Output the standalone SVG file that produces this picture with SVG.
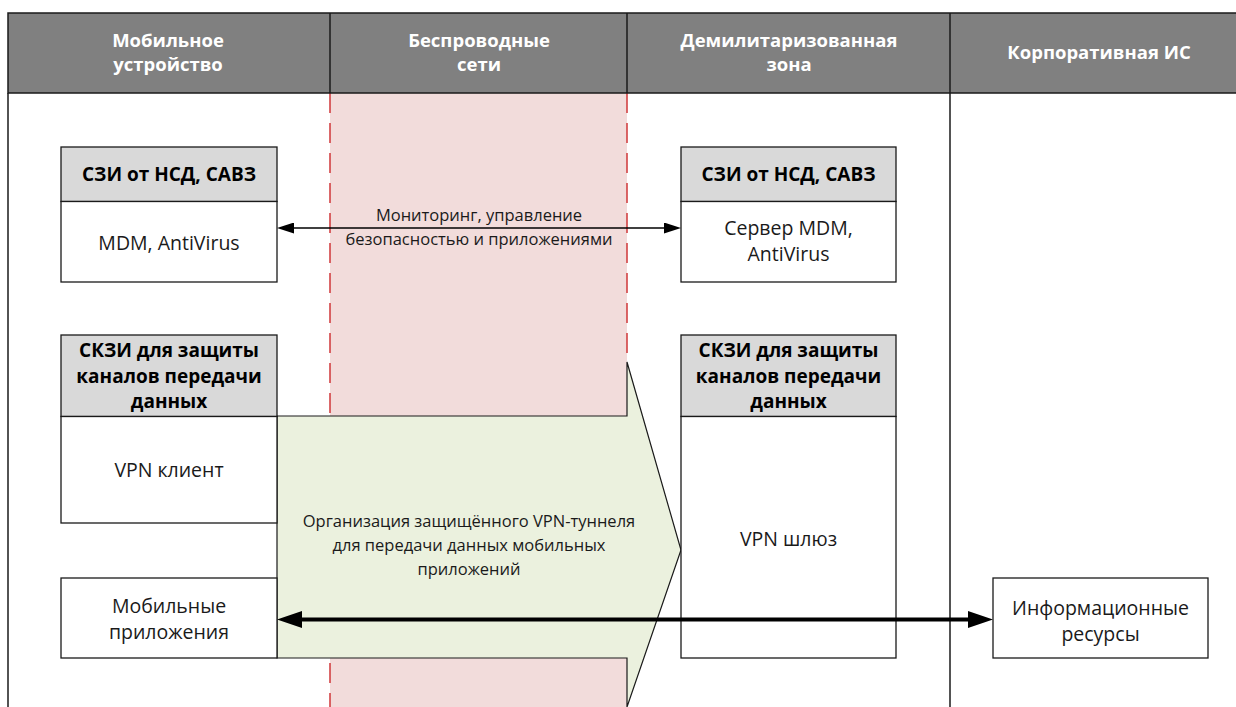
<svg xmlns="http://www.w3.org/2000/svg" width="1236" height="707" viewBox="0 0 1236 707">
  <defs>
    <!-- thin arrowhead: base at ref point, tip 17px ahead -->
    <marker id="arrowThin" viewBox="0 0 17 11" refX="0" refY="5.5" markerWidth="17" markerHeight="11" markerUnits="userSpaceOnUse" orient="auto-start-reverse">
      <path d="M0,0 L17,5.5 L0,11 Z" fill="#000"/>
    </marker>
    <!-- bold arrowhead for the data flow -->
    <marker id="arrowBold" viewBox="0 0 25 17" refX="0" refY="8.5" markerWidth="25" markerHeight="17" markerUnits="userSpaceOnUse" orient="auto-start-reverse">
      <path d="M0,0 L25,8.5 L0,17 Z" fill="#000"/>
    </marker>
  </defs>
  <style>
    text { font-family: "Open Sans", "Noto Sans", "DejaVu Sans", sans-serif; font-size: 19.5px; fill: #1a1a1a; text-anchor: middle; }
    .lane-title { font-weight: bold; fill: #ffffff; font-size: 18.5px; }
    .box-title { font-weight: bold; fill: #000000; font-size: 19px; }
    .label { font-size: 16.5px; }
    .box { fill: #ffffff; stroke: #1a1a1a; stroke-width: 1.3; }
    .box-head { fill: #d9d9d9; stroke: #1a1a1a; stroke-width: 1.3; }
    .zone { fill: #f2dcdb; stroke: none; }
    .zone-edge { stroke: #d0373a; stroke-width: 1.5; stroke-dasharray: 20 10; fill: none; }
    .lane-line { stroke: #1a1a1a; stroke-width: 1.5; fill: none; }
    .tunnel { fill: #ebf1de; stroke: #1a1a1a; stroke-width: 1.2; }
  </style>

  <rect x="0" y="0" width="1236" height="707" fill="#ffffff"/>

  <!-- swimlanes -->
  <g id="lanes">
    <rect x="330" y="93" width="297" height="323" class="zone"/>
    <rect x="330" y="658" width="297" height="49" class="zone"/>
    <line x1="330" y1="93" x2="330" y2="707" class="zone-edge"/>
    <line x1="627" y1="93" x2="627" y2="362" class="zone-edge"/>
    <line x1="8" y1="93" x2="8" y2="707" class="lane-line"/>
    <line x1="950" y1="93" x2="950" y2="707" class="lane-line"/>
    <rect x="8" y="13" width="1240" height="80" fill="#808080" stroke="#1a1a1a" stroke-width="1.5"/>
    <line x1="330" y1="13" x2="330" y2="93" class="lane-line"/>
    <line x1="627" y1="13" x2="627" y2="93" class="lane-line"/>
    <line x1="950" y1="13" x2="950" y2="93" class="lane-line"/>
    <text class="lane-title" x="168" y="47">Мобильное</text>
    <text class="lane-title" x="168" y="71">устройство</text>
    <text class="lane-title" x="479" y="47">Беспроводные</text>
    <text class="lane-title" x="479" y="71">сети</text>
    <text class="lane-title" x="789" y="47">Демилитаризованная</text>
    <text class="lane-title" x="789" y="71">зона</text>
    <text class="lane-title" x="1099" y="59">Корпоративная ИС</text>
  </g>

  <!-- VPN tunnel block arrow -->
  <g id="tunnel">
    <polygon class="tunnel" points="277,416 627,416 627,362 681,550 627,707 627,658 277,658"/>
    <text class="label" x="469" y="527">Организация защищённого VPN-туннеля</text>
    <text class="label" x="469" y="551">для передачи данных мобильных</text>
    <text class="label" x="469" y="575">приложений</text>
  </g>

  <!-- mobile device: protection tools -->
  <g id="mobile-szi">
    <rect x="61" y="147" width="216" height="54.5" class="box-head"/>
    <rect x="61" y="201.5" width="216" height="80.5" class="box"/>
    <text class="box-title" x="169" y="181">СЗИ от НСД, САВЗ</text>
    <text x="169" y="250">MDM, AntiVirus</text>
  </g>

  <!-- DMZ: protection tools -->
  <g id="dmz-szi">
    <rect x="681" y="147" width="215" height="54.5" class="box-head"/>
    <rect x="681" y="201.5" width="215" height="80.5" class="box"/>
    <text class="box-title" x="788.5" y="181">СЗИ от НСД, САВЗ</text>
    <text x="788.5" y="235">Сервер MDM,</text>
    <text x="788.5" y="261">AntiVirus</text>
  </g>

  <!-- mobile device: VPN client -->
  <g id="mobile-vpn">
    <rect x="61" y="335" width="216" height="81.5" class="box-head"/>
    <rect x="61" y="416.5" width="216" height="106.5" class="box"/>
    <text class="box-title" x="169" y="357">СКЗИ для защиты</text>
    <text class="box-title" x="169" y="383">каналов передачи</text>
    <text class="box-title" x="169" y="408">данных</text>
    <text x="169" y="477">VPN клиент</text>
  </g>

  <!-- DMZ: VPN gateway -->
  <g id="dmz-vpn">
    <rect x="681" y="335" width="215" height="81.5" class="box-head"/>
    <rect x="681" y="416.5" width="215" height="241.5" class="box"/>
    <text class="box-title" x="788.5" y="357">СКЗИ для защиты</text>
    <text class="box-title" x="788.5" y="383">каналов передачи</text>
    <text class="box-title" x="788.5" y="408">данных</text>
    <text x="788.5" y="546">VPN шлюз</text>
  </g>

  <!-- mobile applications -->
  <g id="mobile-apps">
    <rect x="61" y="578" width="216" height="80" class="box"/>
    <text x="169" y="613">Мобильные</text>
    <text x="169" y="639">приложения</text>
  </g>

  <!-- corporate information resources -->
  <g id="info-resources">
    <rect x="993" y="578" width="215" height="80" class="box"/>
    <text x="1100.5" y="615">Информационные</text>
    <text x="1100.5" y="641">ресурсы</text>
  </g>

  <!-- connectors -->
  <g id="connectors">
    <line x1="294" y1="228" x2="664" y2="228" stroke="#000" stroke-width="1.3" marker-start="url(#arrowThin)" marker-end="url(#arrowThin)"/>
    <line x1="302" y1="619.5" x2="968" y2="619.5" stroke="#000" stroke-width="4" marker-start="url(#arrowBold)" marker-end="url(#arrowBold)"/>
  </g>

  <g id="connector-labels">
    <text class="label" x="479" y="221">Мониторинг, управление</text>
    <text class="label" x="479" y="245">безопасностью и приложениями</text>
  </g>
</svg>
